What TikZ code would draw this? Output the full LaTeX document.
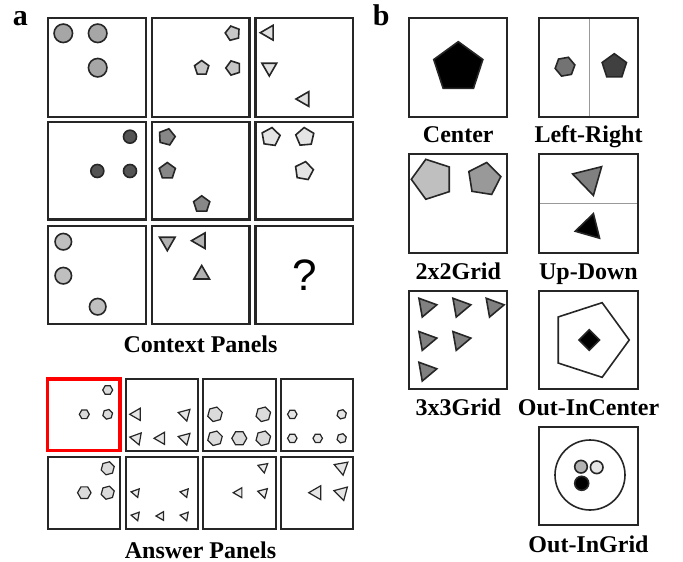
\documentclass[tikz,border=0pt]{standalone}
\usepackage{fontspec}
\setmainfont{Liberation Serif}
\setsansfont{Liberation Sans}
\usepackage{tikz}
\usetikzlibrary{shapes.geometric}

\tikzset{
  panel/.style={draw=black!85, line width=2.3pt},
  shp/.style={draw=black!85, line width=1.6pt, inner sep=0pt, outer sep=0pt},
  circ/.style={shp, circle},
  pent/.style={shp, regular polygon, regular polygon sides=5},
  hexa/.style={shp, regular polygon, regular polygon sides=6},
  tri/.style={shp, regular polygon, regular polygon sides=3},
  small/.style={line width=1.2pt},
  divider/.style={draw=black!40, line width=1pt},
  caption/.style={font=\fontsize{24}{28}\selectfont\bfseries, anchor=base, inner sep=0pt},
  tag/.style={font=\fontsize{30}{34}\selectfont\bfseries, anchor=base west, inner sep=0pt},
}

\begin{document}
\begin{tikzpicture}[x=1pt, y=-1pt]
  \useasboundingbox (0,0) rectangle (683,562);
  \node[tag] (taga) at (12.7,25) {a};
  \node[tag] (tagb) at (372.7,25) {b};

  % context panels
  \draw[panel] (47.7,18.3) rectangle (145.7,116.7);
  \draw[panel] (151.7,18.3) rectangle (249.5,116.7);
  \draw[panel] (255.5,18.3) rectangle (353.3,116.7);
  \draw[panel] (47.7,122.3) rectangle (145.7,219.5);
  \draw[panel] (151.7,122.3) rectangle (249.5,219.5);
  \draw[panel] (255.5,122.3) rectangle (353.3,219.5);
  \draw[panel] (47.7,226) rectangle (145.7,323.7);
  \draw[panel] (151.7,226) rectangle (249.5,323.7);
  \draw[panel] (255.5,226) rectangle (353.3,323.7) node(query)[pos=.5] {\sffamily\fontsize{44}{48}\selectfont ?};

  \node[circ, fill=black!35, minimum size=18.5] (c1a) at (63.3,33.3) {};
  \node[circ, fill=black!35, minimum size=18.5] (c1b) at (97.7,33.3) {};
  \node[circ, fill=black!35, minimum size=18.5] (c1c) at (97.7,67.7) {};
  \node[pent, fill=black!22, minimum size=15, rotate=15] (p1a) at (232.7,33.3) {};
  \node[pent, fill=black!22, minimum size=15] (p1b) at (201.7,68) {};
  \node[pent, fill=black!22, minimum size=15, rotate=90] (p1c) at (233.3,68) {};
  \node[tri, fill=black!12, minimum size=17, rotate=90] (t1a) at (268.8,32.7) {};
  \node[tri, fill=black!12, minimum size=17, rotate=180] (t1b) at (269.3,67.5) {};
  \node[tri, fill=black!12, minimum size=17, rotate=90] (t1c) at (304.5,99) {};

  \node[circ, fill=black!67, minimum size=13] (c2a) at (130,136.7) {};
  \node[circ, fill=black!67, minimum size=13] (c2b) at (97.3,171) {};
  \node[circ, fill=black!67, minimum size=13] (c2c) at (130,171) {};
  \node[pent, fill=black!47, minimum size=17, rotate=-15] (p2a) at (166.7,137) {};
  \node[pent, fill=black!47, minimum size=17] (p2b) at (167.3,171) {};
  \node[pent, fill=black!47, minimum size=17] (p2c) at (201.7,204.3) {};
  \node[pent, fill=black!10, minimum size=19, rotate=-8] (p3a) at (270.7,137) {};
  \node[pent, fill=black!10, minimum size=19, rotate=5] (p3b) at (305,137) {};
  \node[pent, fill=black!10, minimum size=19, rotate=-10] (p3c) at (304,171) {};

  \node[circ, fill=black!25, minimum size=16.5] (c3a) at (63.3,241.7) {};
  \node[circ, fill=black!25, minimum size=16.5] (c3b) at (63.3,275.7) {};
  \node[circ, fill=black!25, minimum size=16.5] (c3c) at (97.7,306.7) {};
  \node[tri, fill=black!30, minimum size=18, rotate=180] (t3a) at (167.3,241.7) {};
  \node[tri, fill=black!30, minimum size=18, rotate=90] (t3b) at (200.5,240.7) {};
  \node[tri, fill=black!30, minimum size=18] (t3c) at (201.7,274.5) {};

  \node[caption] (ctx) at (200.5,352) {Context Panels};

  % answer panels
  \node[hexa, small, fill=black!14, minimum size=10] (a1a) at (107.7,390) {};
  \node[hexa, small, fill=black!14, minimum size=10] (a1b) at (84.3,414.3) {};
  \node[hexa, small, fill=black!14, minimum size=10, rotate=15] (a1c) at (107.7,414.3) {};
  \node[tri, small, fill=black!10, minimum size=14, rotate=90] (a2a) at (136.7,414.3) {};
  \node[tri, small, fill=black!10, minimum size=14, rotate=75] (a2b) at (185,414.3) {};
  \node[tri, small, fill=black!10, minimum size=14, rotate=80] (a2c) at (136.7,438.3) {};
  \node[tri, small, fill=black!10, minimum size=14, rotate=90] (a2d) at (161,438.3) {};
  \node[tri, small, fill=black!10, minimum size=14, rotate=75] (a2e) at (185,438.3) {};
  \node[hexa, small, fill=black!14, minimum size=15, rotate=15] (a3a) at (215,414.3) {};
  \node[hexa, small, fill=black!14, minimum size=15, rotate=15] (a3b) at (263.3,414.3) {};
  \node[hexa, small, fill=black!14, minimum size=15, rotate=15] (a3c) at (215,438.3) {};
  \node[hexa, small, fill=black!14, minimum size=15] (a3d) at (239.3,438.3) {};
  \node[hexa, small, fill=black!14, minimum size=15, rotate=15] (a3e) at (263.3,438.3) {};
  \node[hexa, small, fill=black!10, minimum size=9.5] (a4a) at (292.3,414.3) {};
  \node[hexa, small, fill=black!10, minimum size=9.5, rotate=15] (a4b) at (341.7,414.3) {};
  \node[hexa, small, fill=black!10, minimum size=9.5] (a4c) at (292.3,438.3) {};
  \node[hexa, small, fill=black!10, minimum size=9.5] (a4d) at (317.7,438.3) {};
  \node[hexa, small, fill=black!10, minimum size=9.5, rotate=15] (a4e) at (341.7,438.3) {};

  \node[hexa, small, fill=black!14, minimum size=13.5, rotate=15] (b1a) at (107.7,468.3) {};
  \node[hexa, small, fill=black!14, minimum size=13.5] (b1b) at (84.3,492.7) {};
  \node[hexa, small, fill=black!14, minimum size=13.5, rotate=15] (b1c) at (107.7,492.7) {};
  \node[tri, small, fill=black!8, minimum size=10, rotate=80] (b2a) at (136,492.7) {};
  \node[tri, small, fill=black!8, minimum size=10, rotate=80] (b2b) at (185,492.7) {};
  \node[tri, small, fill=black!8, minimum size=10, rotate=80] (b2c) at (136,516) {};
  \node[tri, small, fill=black!8, minimum size=10, rotate=90] (b2d) at (161,516) {};
  \node[tri, small, fill=black!8, minimum size=10, rotate=80] (b2e) at (185,516) {};
  \node[tri, small, fill=black!8, minimum size=11.5, rotate=70] (b3a) at (263.3,467.3) {};
  \node[tri, small, fill=black!8, minimum size=11.5, rotate=90] (b3b) at (239,492.7) {};
  \node[tri, small, fill=black!8, minimum size=11.5, rotate=75] (b3c) at (263.3,492.7) {};
  \node[tri, small, fill=black!10, minimum size=16, rotate=70] (b4a) at (341.7,467.3) {};
  \node[tri, small, fill=black!10, minimum size=16, rotate=90] (b4b) at (316.7,492.7) {};
  \node[tri, small, fill=black!10, minimum size=16, rotate=75] (b4c) at (341.7,492.7) {};

  \draw[panel, draw=red, line width=3.2pt] (47.7,379) rectangle (120,450.7);
  \draw[panel] (125.7,379) rectangle (197.7,450.7);
  \draw[panel] (203.3,379) rectangle (275.7,450.7);
  \draw[panel] (281,379) rectangle (353.3,450.7);
  \draw[panel] (47.7,456.7) rectangle (120,529);
  \draw[panel] (125.7,456.7) rectangle (197.7,529);
  \draw[panel] (203.3,456.7) rectangle (275.7,529);
  \draw[panel] (281,456.7) rectangle (353.3,529);

  \node[caption] (ans) at (200.5,558) {Answer Panels};

  % configurations
  \draw[divider] (589.3,18.3) -- (589.3,116.7);
  \draw[divider] (539.3,203.3) -- (637.7,203.3);

  \node[pent, fill=black, minimum size=51.6] (centre) at (458.3,67.5) {};
  \node[hexa, fill=black!55, minimum size=20, rotate=10] (lrleft) at (565,66.7) {};
  \node[pent, fill=black!75, minimum size=25.6] (lrright) at (614.3,66.5) {};

  \node[pent, fill=black!25, minimum size=42, rotate=90] (gridbig) at (432.3,179.3) {};
  \node[pent, fill=black!40, minimum size=34, rotate=-9] (gridsmall) at (484,179.3) {};
  \node[tri, fill=black!50, minimum size=34.6, rotate=-46] (udup) at (589.2,178.7) {};
  \node[tri, fill=black, minimum size=29.2, rotate=-16] (uddown) at (589.4,227.7) {};

  \node[tri, fill=black!50, minimum size=22, rotate=-80] (g1) at (426,306.7) {};
  \node[tri, fill=black!50, minimum size=22, rotate=-80] (g2) at (460,306.7) {};
  \node[tri, fill=black!50, minimum size=22, rotate=-80] (g3) at (493.3,306.7) {};
  \node[tri, fill=black!50, minimum size=22, rotate=-80] (g4) at (426,340) {};
  \node[tri, fill=black!50, minimum size=22, rotate=-80] (g5) at (460,340) {};
  \node[tri, fill=black!50, minimum size=22, rotate=-80] (g6) at (426,370.7) {};

  \node[pent, fill=white, minimum size=78.5, rotate=-90] (outpent) at (590,340) {};
  \node[shp, diamond, fill=black, minimum width=20.5, minimum height=20.5] (inpoint) at (589.3,340) {};

  \node[circ, fill=white, minimum size=70] (outcirc) at (590,475) {};
  \node[circ, fill=black!30, minimum size=12.6] (in1) at (581,466.7) {};
  \node[circ, fill=black!10, minimum size=12.6] (in2) at (596.7,467.3) {};
  \node[circ, fill=black, minimum size=14] (in3) at (581.7,483.3) {};

  \draw[panel] (409.3,18.3) rectangle (507.3,116.7);
  \draw[panel] (539.3,18.3) rectangle (637.7,116.7);
  \draw[panel] (409.3,154.3) rectangle (507.3,252.7);
  \draw[panel] (539.3,154.3) rectangle (637.7,252.7);
  \draw[panel] (409.3,291) rectangle (507.3,389);
  \draw[panel] (539.3,291) rectangle (637.7,389);
  \draw[panel] (539.3,426.7) rectangle (637.7,525);

  \node[caption] (lcentre) at (458.3,142) {Center};
  \node[caption] (llr) at (588.5,142) {Left-Right};
  \node[caption] (lgrid2) at (458.3,279) {2x2Grid};
  \node[caption] (lud) at (588.5,279) {Up-Down};
  \node[caption] (lgrid3) at (458.3,415) {3x3Grid};
  \node[caption] (loic) at (588.5,415) {Out-InCenter};
  \node[caption] (loig) at (588.5,552.5) {Out-InGrid};
\end{tikzpicture}
\end{document}
